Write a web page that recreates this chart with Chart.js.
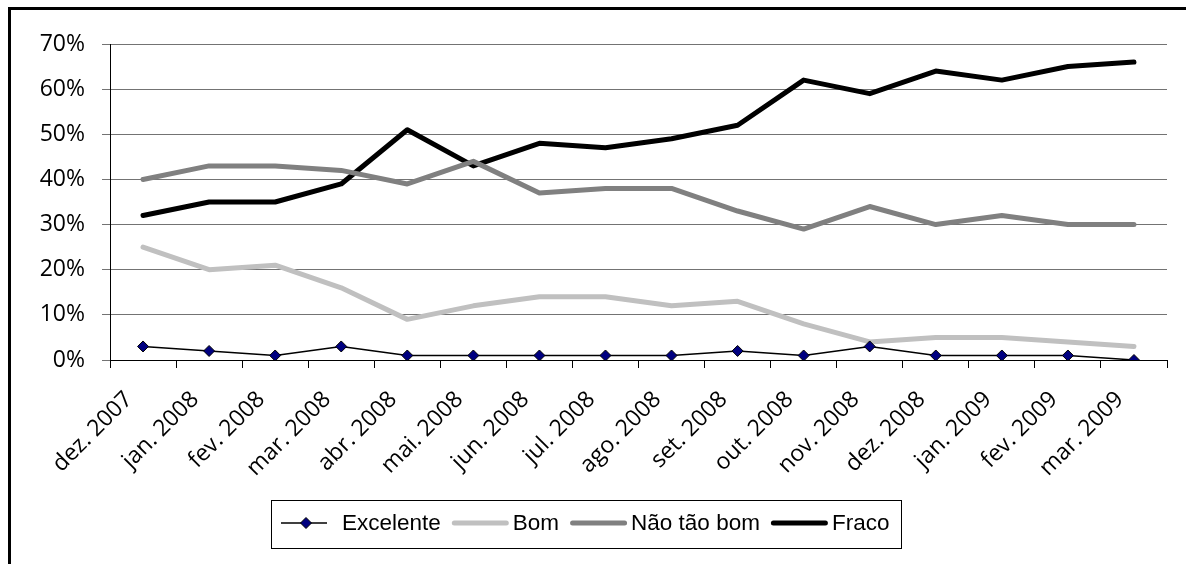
<!DOCTYPE html>
<html><head><meta charset="utf-8">
<script src="https://cdn.jsdelivr.net/npm/chart.js@4/dist/chart.umd.min.js"></script>
<style>
html,body{margin:0;padding:0;background:#fff;overflow:hidden;width:1186px;height:564px;}
#wrap{position:absolute;left:0;top:0;width:1186px;height:564px;}
#frame{position:absolute;left:8px;top:7px;width:1400px;height:800px;border:3px solid #000;pointer-events:none;}
</style></head><body>
<div id="wrap"><canvas id="c" width="1186" height="564"></canvas></div>
<div id="frame"></div>
<script>
const categories = ['dez. 2007','jan. 2008','fev. 2008','mar. 2008','abr. 2008','mai. 2008','jun. 2008','jul. 2008','ago. 2008','set. 2008','out. 2008','nov. 2008','dez. 2008','jan. 2009','fev. 2009','mar. 2009'];
const excelente = [3,2,1,3,1,1,1,1,1,2,1,3,1,1,1,0];
const bom = [25,20,21,16,9,12,14,14,12,13,8,4,5,5,4,3];
const naoTaoBom = [40,43,43,42,39,44,37,38,38,33,29,34,30,32,30,30];
const fraco = [32,35,35,39,51,43,48,47,49,52,62,59,64,62,65,66];
const seriesNames = ['Excelente','Bom','Não tão bom','Fraco'];
const yTicks = [0,10,20,30,40,50,60,70];

const axisFont = {family:"'Open Sans'", size:23};

const common = {tension:0, fill:false, borderJoinStyle:'round', borderCapStyle:'round'};
const datasets = [
  Object.assign({label:seriesNames[0], data:excelente, borderColor:'#000', borderWidth:1.5,
    pointStyle:'rectRot', pointRadius:5.5, pointBackgroundColor:'#000080', pointBorderColor:'#000', pointBorderWidth:1}, common),
  Object.assign({label:seriesNames[1], data:bom, borderColor:'#C0C0C0', borderWidth:5, pointRadius:0}, common),
  Object.assign({label:seriesNames[2], data:naoTaoBom, borderColor:'#808080', borderWidth:5, pointRadius:0}, common),
  Object.assign({label:seriesNames[3], data:fraco, borderColor:'#000', borderWidth:5, pointRadius:0}, common)
];

// custom legend (Excel-like, framed box)
const excelLegend = {
  id:'excelLegend',
  afterDraw(chart, args, opts){
    const ctx = chart.ctx;
    ctx.save();
    ctx.font = opts.fontSize + 'px ' + opts.fontFamily;
    ctx.textBaseline = 'middle';
    let x = opts.left + opts.innerPad;
    const cy = opts.centerY;
    chart.data.datasets.forEach((d) => {
      ctx.save();
      ctx.strokeStyle = d.borderColor; ctx.lineWidth = d.borderWidth;
      const hasPoint = d.pointRadius > 0;
      ctx.lineCap = hasPoint ? 'butt' : 'round';
      const len = hasPoint ? opts.thinLen : opts.thickLen;
      const inset = hasPoint ? 0 : d.borderWidth/2;
      ctx.beginPath(); ctx.moveTo(x + inset, cy); ctx.lineTo(x + len - inset, cy); ctx.stroke();
      if (hasPoint){
        const r = d.pointRadius, mx = x + len/2 + 2;
        ctx.fillStyle = d.pointBackgroundColor; ctx.strokeStyle = d.pointBorderColor; ctx.lineWidth = d.pointBorderWidth;
        ctx.beginPath(); ctx.moveTo(mx - r, cy); ctx.lineTo(mx, cy - r); ctx.lineTo(mx + r, cy); ctx.lineTo(mx, cy + r); ctx.closePath();
        ctx.fill(); ctx.stroke();
      }
      ctx.restore();
      x += opts.swatchArea;
      ctx.fillStyle = '#000';
      ctx.fillText(d.label, x, cy + 1);
      x += ctx.measureText(d.label).width + opts.itemGap;
    });
    const right = x - opts.itemGap + opts.innerPadRight;
    ctx.strokeStyle = '#000'; ctx.lineWidth = 1;
    ctx.strokeRect(Math.round(opts.left)+0.5, Math.round(opts.top)+0.5, Math.round(right - opts.left), Math.round(opts.bottom - opts.top));
    ctx.restore();
  }
};

new Chart(document.getElementById('c'), {
  type:'line',
  data:{labels:categories, datasets},
  options:{
    responsive:false, animation:false, devicePixelRatio:1,
    layout:{padding:{top:44, right:19, bottom:68, left:0}},
    plugins:{
      tooltip:{enabled:false},
      legend:{display:false},
      excelLegend:{left:271, top:500, bottom:548, centerY:523, innerPad:10, innerPadRight:12,
        thinLen:46, thickLen:57, swatchArea:61, itemGap:11, fontSize:22.5, fontFamily:"'Liberation Sans'"}
    },
    scales:{
      x:{
        offset:true,
        grid:{offset:true, drawOnChartArea:false, drawTicks:true, tickLength:8, color:'#000'},
        border:{color:'#000', width:1},
        ticks:{minRotation:45, maxRotation:45, font:axisFont, color:'#000', padding:18, labelOffset:-14, autoSkip:false},
        afterFit(s){ s.height = 136; }
      },
      y:{
        min:0, max:70,
        afterBuildTicks(s){ s.ticks = yTicks.map(v=>({value:v})); },
        grid:{color:'#737373', tickLength:8, lineWidth:1},
        border:{color:'#000', width:1},
        ticks:{font:axisFont, color:'#000', padding:17, callback:v=>v+'%'},
        afterFit(s){ s.width = 110; }
      }
    }
  },
  plugins:[excelLegend]
});
</script>
</body></html>
